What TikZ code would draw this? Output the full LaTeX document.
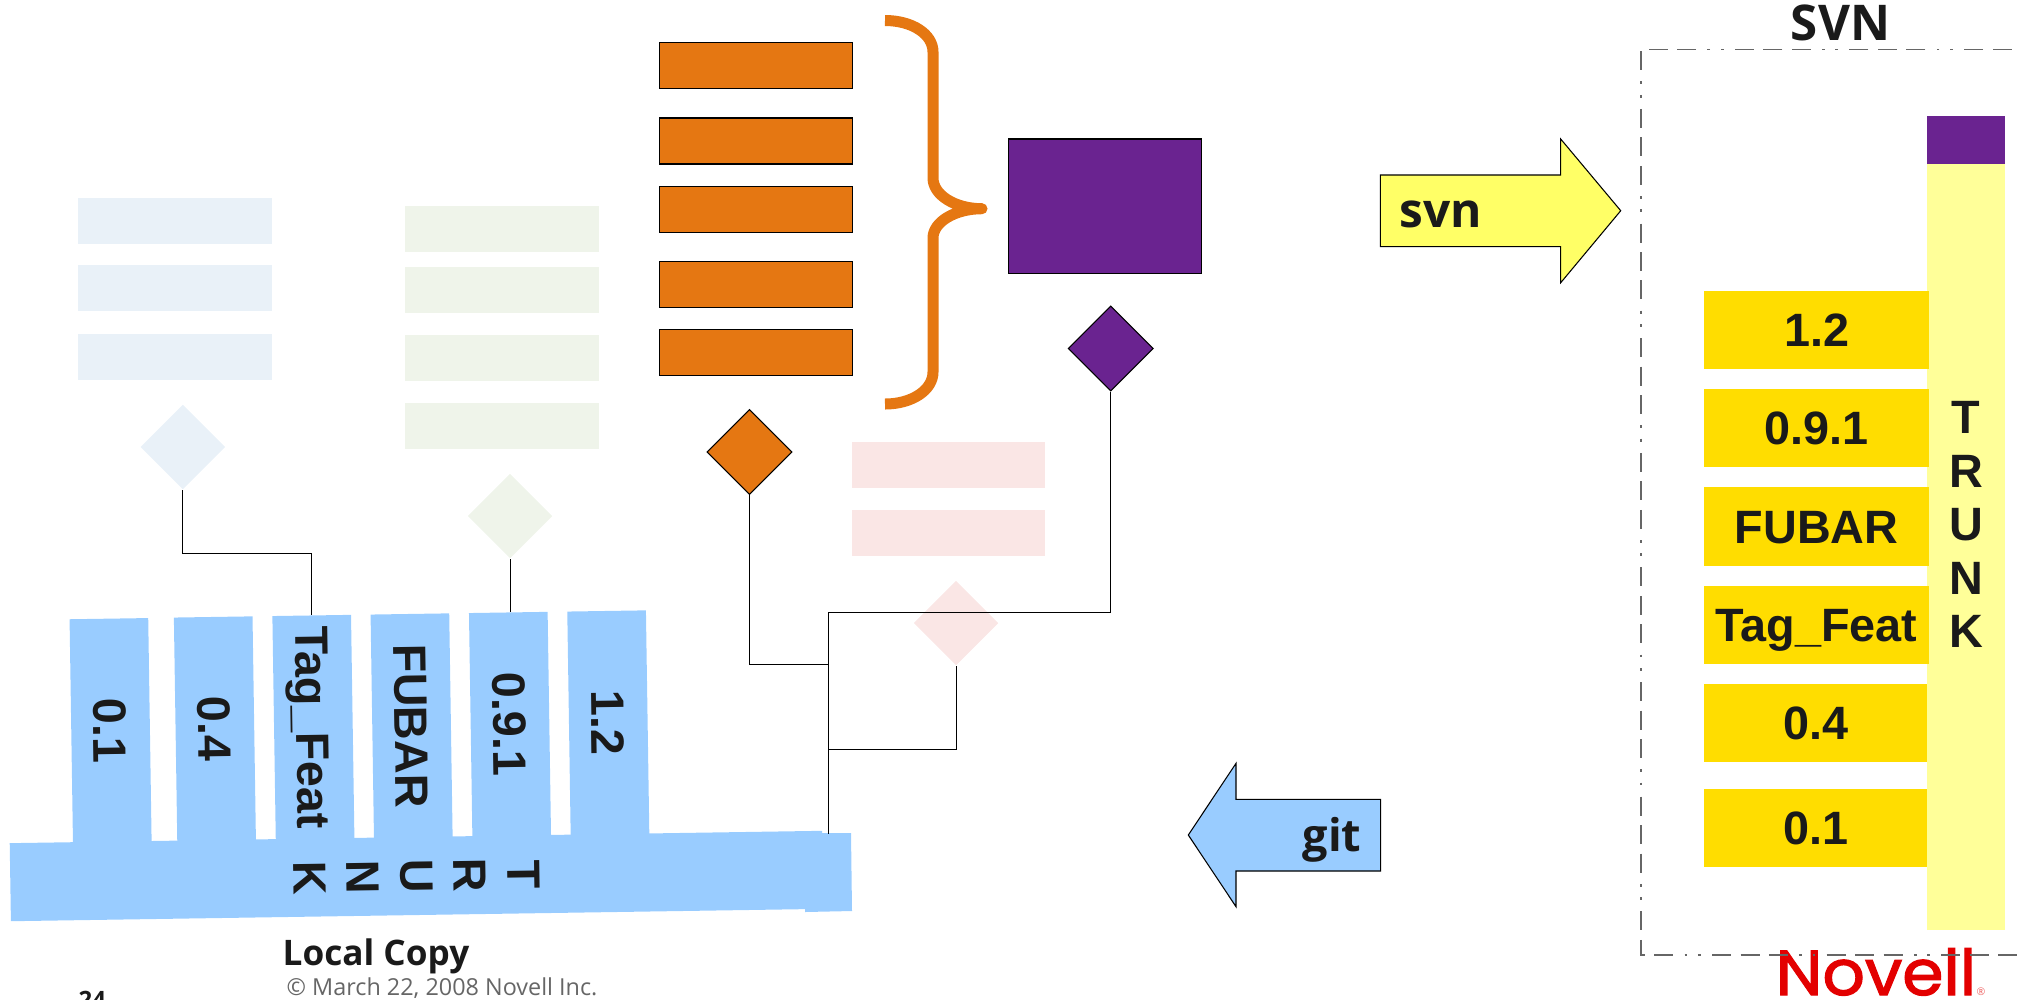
\documentclass[tikz,border=0pt]{standalone}
\usepackage{fontspec}
\setmainfont{Open Sans}
\newfontfamily\tagfont{Liberation Sans}
\newfontfamily\logofont[FakeBold=2,FakeStretch=1.05]{Poppins}
\usetikzlibrary{shapes.geometric}

\definecolor{inkgray}{HTML}{1A1A1A}
\definecolor{notegray}{HTML}{666666}
\definecolor{localblue}{HTML}{99CCFF}
\definecolor{novorange}{HTML}{E57712}
\definecolor{novpurple}{HTML}{6A2390}
\definecolor{tagyellow}{HTML}{FFDD00}
\definecolor{trunkyellow}{HTML}{FFFF99}
\definecolor{arrowyellow}{HTML}{FFFF66}
\definecolor{fadeblue}{HTML}{E9F1F8}
\definecolor{fadegreen}{HTML}{EFF4EA}
\definecolor{fadepink}{HTML}{FAE6E5}
\definecolor{logored}{HTML}{E30000}

\tikzset{
    commitbar/.style={minimum width=1.93cm, minimum height=.46cm, inner sep=0pt},
    commitgem/.style={diamond, aspect=1, minimum width=.85cm, minimum height=.85cm, inner sep=0pt},
    outlined/.style={draw=black, line width=.3pt},
    wire/.style={draw=black, line width=.28pt},
    tagtext/.style={text=inkgray, font=\tagfont\bfseries\fontsize{13.3}{15.2}\selectfont},
    localbar/.style={tagtext, fill=localblue, rotate=-89.13, text height=9.5pt, text depth=0pt, minimum width=2.24cm, minimum height=.786cm, inner sep=0pt},
    svntag/.style={tagtext, fill=tagyellow, text height=9.5pt, text depth=0pt, minimum width=2.25cm, minimum height=.78cm, inner sep=0pt},
    svnframe/.style={draw=notegray, line width=.35pt, dash pattern=on 5.4pt off 2.7pt on 5.4pt off 2.7pt on 5.4pt off 3.2pt on .8pt off 3pt on .8pt off 3.2pt},
}

\begin{document}
\begin{tikzpicture}[x=.01cm, y=-.01cm]
    \useasboundingbox (0,0) rectangle (2018,999);

    % Faded blue commits
    \node[commitbar, fill=fadeblue] (blueA) at (175,221) {};
    \node[commitbar, fill=fadeblue] (blueB) at (175,288) {};
    \node[commitbar, fill=fadeblue] (blueC) at (175,356.5) {};
    \node[commitgem, fill=fadeblue] (blueGem) at (182.8,447) {};

    % Faded green commits
    \node[commitbar, fill=fadegreen] (greenA) at (502,229) {};
    \node[commitbar, fill=fadegreen] (greenB) at (502,289.5) {};
    \node[commitbar, fill=fadegreen] (greenC) at (502,358) {};
    \node[commitbar, fill=fadegreen] (greenD) at (502,426) {};
    \node[commitgem, fill=fadegreen] (greenGem) at (510,516) {};

    % Orange commits
    \node[commitbar, outlined, fill=novorange] (orangeA) at (756.2,65.5) {};
    \node[commitbar, outlined, fill=novorange] (orangeB) at (756.2,141) {};
    \node[commitbar, outlined, fill=novorange] (orangeC) at (756.2,209.4) {};
    \node[commitbar, outlined, fill=novorange] (orangeD) at (756.2,284.7) {};
    \node[commitbar, outlined, fill=novorange] (orangeE) at (756.2,352.8) {};
    \node[commitgem, outlined, fill=novorange] (orangeGem) at (749.5,452) {};

    % Brace and squashed commit
    \draw[novorange, line width=3.13pt, line join=round]
        (885,20.5) .. controls (912,20.5) and (933,34) .. (933,52) -- (933,178)
        .. controls (933,195) and (955,208.7) .. (982,208.7)
        .. controls (955,208.7) and (933,222) .. (933,238) -- (933,372)
        .. controls (933,390) and (912,404) .. (885,404);
    \node[outlined, fill=novpurple, minimum width=1.924cm, minimum height=1.34cm, inner sep=0pt] (squashBox) at (1105.2,206) {};
    \node[commitgem, outlined, fill=novpurple] (purpleGem) at (1110.7,348.5) {};

    % Faded pink commits
    \node[commitbar, fill=fadepink] (pinkA) at (948.5,464.5) {};
    \node[commitbar, fill=fadepink] (pinkB) at (948.5,533) {};
    \node[commitgem, fill=fadepink] (pinkGem) at (956,623) {};

    % Local copy
    \node[localbar] (barA) at (110.6,730.7) {0.1};
    \node[localbar] (barB) at (214.9,729) {0.4};
    \node[localbar] (barC) at (313.4,727.5) {Tag\_Feat};
    \node[localbar] (barD) at (411.6,726) {FUBAR};
    \node[localbar] (barE) at (510,724.5) {0.9.1};
    \node[localbar] (barF) at (608.3,723) {1.2};
    \fill[localblue] (805,833) -- (851,833) -- (852,911) -- (805,912) -- cycle;
    \node[tagtext, fill=localblue, rotate=-89.13, minimum width=.78cm, minimum height=8.12cm, inner sep=0pt, align=center] (localTrunk) at (416.5,876) {T\\R\\U\\N\\K};
    \node[text=inkgray, font=\bfseries\fontsize{10}{12}\selectfont, anchor=base west, inner sep=0pt] (localLabel) at (282,965.7) {Local Copy};

    % Wires from the commits
    \coordinate (spineTop) at (828,612.5);
    \coordinate (spineOrange) at (828,664);
    \coordinate (spinePink) at (828,749);
    \coordinate (spineEnd) at (828,834);
    \draw[wire] (blueGem.south) -- ++(0,63) -| (barC.west);
    \draw[wire] (greenGem.south) -- (greenGem.south |- barE.west);
    \draw[wire] (orangeGem.south) |- (spineOrange);
    \draw[wire] (purpleGem.south) |- (spineTop) -- (spineEnd);
    \draw[wire] (pinkGem.south) |- (spinePink);

    % Arrows
    \draw[outlined, fill=arrowyellow] (1380.3,175) -- (1560.7,175) -- (1560.7,139) -- (1620.7,210.7) -- (1560.7,282.7) -- (1560.7,246.7) -- (1380.3,246.7) -- cycle;
    \node[text=inkgray, font=\bfseries\fontsize{13.6}{15}\selectfont, anchor=base west, inner sep=0pt] (svnLabel) at (1399,227.7) {svn};
    \draw[outlined, fill=localblue] (1380.7,799.3) -- (1236,799.3) -- (1236,763.3) -- (1188.3,835) -- (1236,906.7) -- (1236,871) -- (1380.7,871) -- cycle;
    \node[text=inkgray, font=\bfseries\fontsize{12.8}{15}\selectfont, anchor=base east, inner sep=0pt] (gitLabel) at (1362,851.7) {git};

    % SVN side
    \node[fill=trunkyellow, minimum width=.78cm, minimum height=7.66cm, inner sep=0pt] (svnTrunk) at (1966,547) {};
    \node[fill=novpurple, minimum width=.78cm, minimum height=.48cm, inner sep=0pt] (svnHead) at (1966,140) {};
    \node[tagtext, align=center, inner sep=0pt] (svnTrunkLabel) at (1966,524.5) {T\\R\\U\\N\\K};
    \node[svntag] (tagA) at (1816.5,330) {1.2};
    \node[svntag] (tagB) at (1816.5,428) {0.9.1};
    \node[svntag] (tagC) at (1816.5,526.5) {FUBAR};
    \node[svntag] (tagD) at (1816.5,625) {Tag\_Feat};
    \node[svntag, minimum width=2.23cm] (tagE) at (1815.5,723) {0.4};
    \node[svntag, minimum width=2.23cm] (tagF) at (1815.5,828) {0.1};
    \node[text=inkgray, font=\bfseries\fontsize{14}{15}\selectfont, anchor=base, inner sep=0pt] (svnLabelTop) at (1840.5,40.7) {SVN};

    % Footer
    \node[text=logored, font=\logofont\fontsize{18}{20}\selectfont, anchor=base west, inner sep=0pt] (logoText) at (1775,995) {Novell};
    \node[text=logored!60, font=\fontsize{3}{4}\selectfont, anchor=base west, inner sep=0pt] (logoMark) at (1976,995) {®};
    \draw[svnframe] (2040,49.3) -- (1641,49.3) -- (1641,955) -- (2040,955);
    \node[text=notegray, font=\fontsize{6.65}{8}\selectfont, anchor=base west, inner sep=0pt] (noteLabel) at (286,995.7) {© March 22, 2008 Novell Inc.};
    \node[text=inkgray, font=\bfseries\fontsize{6.8}{8}\selectfont, anchor=base west, inner sep=0pt] (pageLabel) at (78,1008) {24};
\end{tikzpicture}
\end{document}
